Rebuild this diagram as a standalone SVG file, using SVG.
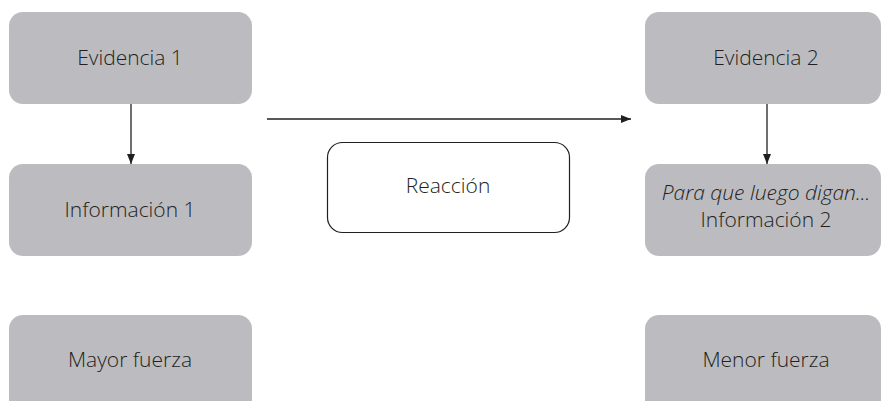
<svg xmlns="http://www.w3.org/2000/svg" width="881" height="401" viewBox="0 0 881 401">
  <defs>
    <marker id="arrow" viewBox="0 0 10 10" refX="10" refY="5" markerWidth="10" markerHeight="10" markerUnits="userSpaceOnUse" orient="auto">
      <path d="M0,1 L10,5 L0,9 Z" fill="#231f20"/>
    </marker>
    <style>
      .box { fill: #bcbcc0; }
      .plain { fill: #ffffff; stroke: #231f20; stroke-width: 1.2; }
      .lbl { font-family: "Open Sans", "Liberation Sans", sans-serif; font-weight: 300; font-size: 21px; fill: #231f20; text-anchor: middle; }
      .it { font-style: italic; }
      .edge { stroke: #231f20; stroke-width: 1.3; fill: none; marker-end: url(#arrow); }
    </style>
  </defs>
  <rect width="881" height="401" fill="#ffffff"/>

  <g id="evidencia1">
    <rect class="box" x="9" y="12" width="243" height="92" rx="14"/>
    <text class="lbl" x="130" y="65">Evidencia 1</text>
  </g>
  <g id="informacion1">
    <rect class="box" x="9" y="164" width="243" height="92" rx="14"/>
    <text class="lbl" x="130" y="217">Información 1</text>
  </g>
  <g id="mayor">
    <rect class="box" x="9" y="315" width="243" height="100" rx="14"/>
    <text class="lbl" x="130" y="367">Mayor fuerza</text>
  </g>

  <g id="reaccion">
    <rect class="plain" x="327.5" y="142.5" width="242" height="90" rx="15"/>
    <text class="lbl" x="448" y="193">Reacción</text>
  </g>

  <g id="evidencia2">
    <rect class="box" x="645" y="12" width="236" height="92" rx="14"/>
    <text class="lbl" x="766" y="65">Evidencia 2</text>
  </g>
  <g id="informacion2">
    <rect class="box" x="645" y="164" width="236" height="92" rx="14"/>
    <text class="lbl it" x="766" y="200">Para que luego digan...</text>
    <text class="lbl" x="766" y="227">Información 2</text>
  </g>
  <g id="menor">
    <rect class="box" x="645" y="315" width="236" height="100" rx="14"/>
    <text class="lbl" x="766" y="367">Menor fuerza</text>
  </g>

  <g id="connectors">
    <line class="edge" x1="131" y1="104" x2="131" y2="164"/>
    <line class="edge" x1="767" y1="104" x2="767" y2="164"/>
    <line class="edge" x1="267" y1="119" x2="631" y2="119"/>
  </g>
</svg>
